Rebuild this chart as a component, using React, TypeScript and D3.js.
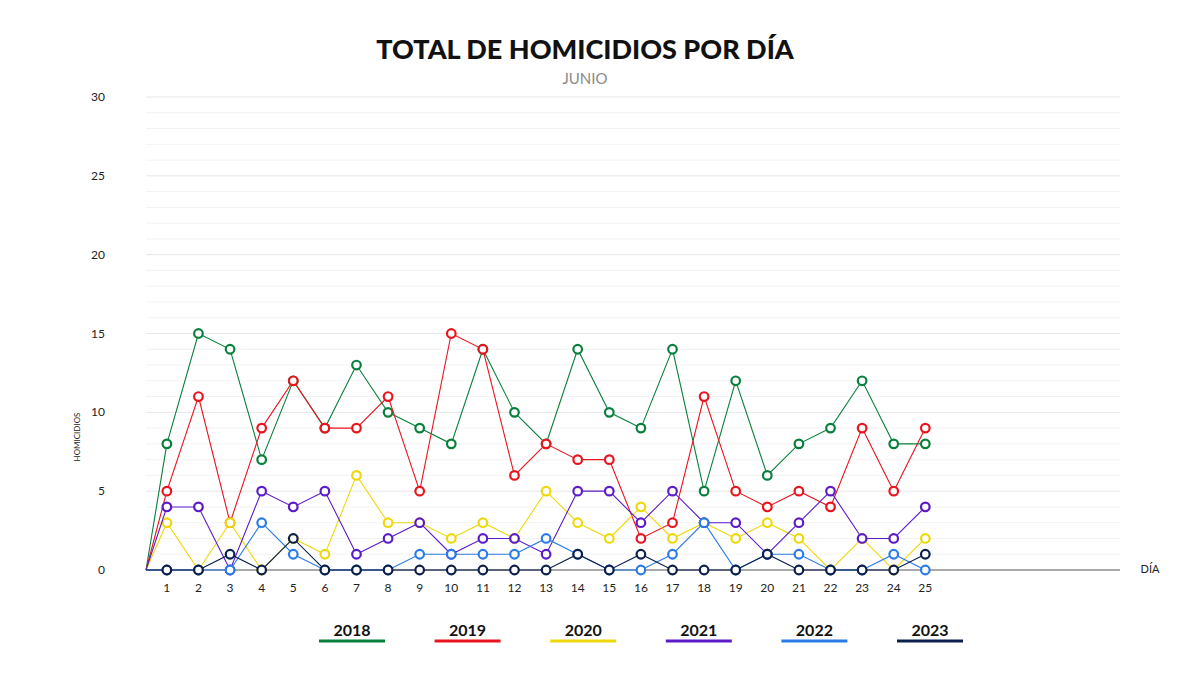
import * as d3 from 'd3';

const days = d3.range(1, 26);
const years = ['2018', '2019', '2020', '2021', '2022', '2023'];
const colors = ['#08803c', '#e8151e', '#eed80a', '#5b1bc9', '#2a7ae8', '#0b1f4e'];
const s2018 = [8, 15, 14, 7, 12, 9, 13, 10, 9, 8, 14, 10, 8, 14, 10, 9, 14, 5, 12, 6, 8, 9, 12, 8, 8];
const s2019 = [5, 11, 3, 9, 12, 9, 9, 11, 5, 15, 14, 6, 8, 7, 7, 2, 3, 11, 5, 4, 5, 4, 9, 5, 9];
const s2020 = [3, 0, 3, 0, 2, 1, 6, 3, 3, 2, 3, 2, 5, 3, 2, 4, 2, 3, 2, 3, 2, 0, 2, 0, 2];
const s2021 = [4, 4, 0, 5, 4, 5, 1, 2, 3, 1, 2, 2, 1, 5, 5, 3, 5, 3, 3, 1, 3, 5, 2, 2, 4];
const s2022 = [0, 0, 0, 3, 1, 0, 0, 0, 1, 1, 1, 1, 2, 1, 0, 0, 1, 3, 0, 1, 1, 0, 0, 1, 0];
const s2023 = [0, 0, 1, 0, 2, 0, 0, 0, 0, 0, 0, 0, 0, 1, 0, 1, 0, 0, 0, 1, 0, 0, 0, 0, 1];
const series = [s2018, s2019, s2020, s2021, s2022, s2023];
const yTicks = [0, 5, 10, 15, 20, 25, 30];

const FONT = 'Lato, "Open Sans", sans-serif';

export default function App() {
  const x = d3.scaleLinear().domain([0.34, 31.16]).range([146, 1120]);
  const y = d3.scaleLinear().domain([0, 30]).range([570, 97]);
  const line = d3
    .line<[number, number]>()
    .x((d) => x(d[0]))
    .y((d) => y(d[1]));
  const legendX = d3.scalePoint<string>().domain(years).range([352, 930]);

  return (
    <svg width={1200} height={675} style={{ position: 'absolute', left: 0, top: 0, background: '#fff' }} fontFamily={FONT}>
      <text x={585} y={59} textAnchor="middle" fontSize={27} fontWeight={900} fill="#111">
        TOTAL DE HOMICIDIOS POR DÍA
      </text>
      <text x={585} y={84} textAnchor="middle" fontSize={15} fill="#8a8a8a">
        JUNIO
      </text>
      {d3.range(1, 31).map((v) => (
        <line key={v} x1={146} x2={1120} y1={y(v)} y2={y(v)} stroke={v % 5 === 0 ? '#e6e6e6' : '#f3f3f3'} strokeWidth={1} />
      ))}
      {yTicks.map((v) => (
        <text key={v} x={105} y={y(v) + 4} textAnchor="end" fontSize={12} fill="#222">
          {v}
        </text>
      ))}
      <text transform={`translate(80,437) rotate(-90)`} textAnchor="middle" fontSize={8} fill="#222">
        HOMICIDIOS
      </text>
      <line x1={146} x2={1120} y1={570} y2={570} stroke="#555" strokeWidth={1.2} />
      {days.map((d) => (
        <text key={d} x={x(d)} y={592} textAnchor="middle" fontSize={12} fill="#222">
          {d}
        </text>
      ))}
      <text x={1150} y={573} textAnchor="middle" fontSize={11} fill="#222">
        DÍA
      </text>
      {series.map((s, i) => {
        const pts: [number, number][] = [[0.34, 0], ...s.map((v, j) => [days[j], v] as [number, number])];
        return (
          <g key={years[i]}>
            <path d={line(pts) ?? ''} fill="none" stroke={colors[i]} strokeWidth={1.1} />
            {s.map((v, j) => (
              <circle key={j} cx={x(days[j])} cy={y(v)} r={4.3} fill="#fff" stroke={colors[i]} strokeWidth={2.2} />
            ))}
          </g>
        );
      })}
      {years.map((yr, i) => (
        <g key={yr}>
          <text x={legendX(yr)} y={636} textAnchor="middle" fontSize={16} fontWeight={700} fill="#111">
            {yr}
          </text>
          <line x1={(legendX(yr) ?? 0) - 33} x2={(legendX(yr) ?? 0) + 33} y1={641} y2={641} stroke={colors[i]} strokeWidth={3} />
        </g>
      ))}
    </svg>
  );
}
